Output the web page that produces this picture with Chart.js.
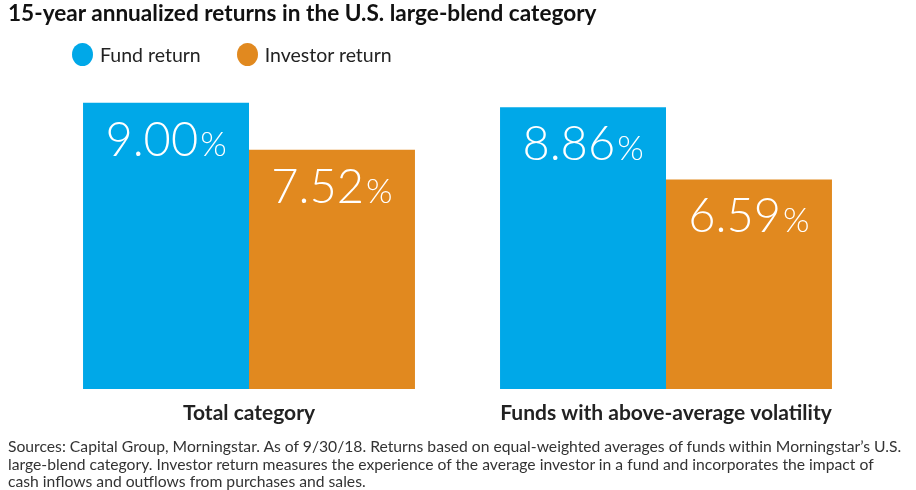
<!DOCTYPE html>
<html>
<head>
<meta charset="utf-8">
<script src="https://cdn.jsdelivr.net/npm/chart.js@4.4.1/dist/chart.umd.min.js"></script>
<style>
  html, body { margin: 0; padding: 0; background: #ffffff; }
  #wrap { position: relative; width: 916px; height: 490px; overflow: hidden; font-family: Lato, "Open Sans", sans-serif; }
  #chart { position: absolute; left: 0; top: 0; }
  #title { position: absolute; left: 8px; top: -1px; font-size: 22.6px; font-weight: 700; color: #111; white-space: nowrap; }
  #legend { position: absolute; left: 72px; top: 43px; display: flex; font-size: 19.5px; color: #222; }
  .item { display: flex; align-items: center; margin-right: 36px; }
  .dot { width: 21px; height: 23px; border-radius: 50%; margin-right: 7px; }
  #note { position: absolute; left: 8px; top: 438px; font-size: 15.7px; line-height: 17.5px; color: #333; font-weight: 400; white-space: nowrap; }
</style>
</head>
<body>
<div id="wrap">
  <canvas id="chart" width="916" height="490"></canvas>
  <div id="title">15-year annualized returns in the U.S. large-blend category</div>
  <div id="legend"></div>
  <div id="note">Sources: Capital Group, Morningstar. As of 9/30/18. Returns based on equal-weighted averages of funds within Morningstar’s U.S.<br>large-blend category. Investor return measures the experience of the average investor in a fund and incorporates the impact of<br>cash inflows and outflows from purchases and sales.</div>
</div>
<script>
const categories = ['Total category', 'Funds with above-average volatility'];
const fundReturns = [9.00, 8.86];
const investorReturns = [7.52, 6.59];
const seriesNames = ['Fund return', 'Investor return'];

const BLUE = '#00A8E8';
const ORANGE = '#E1891F';

// white value labels inside the top of each bar, "%" a bit smaller
const valueLabels = {
  id: 'valueLabels',
  afterDatasetsDraw(chart) {
    const ctx = chart.ctx;
    ctx.save();
    ctx.fillStyle = '#ffffff';
    ctx.textBaseline = 'alphabetic';
    chart.data.datasets.forEach((ds, i) => {
      chart.getDatasetMeta(i).data.forEach((bar, j) => {
        const num = ds.data[j].toFixed(2);
        ctx.font = '300 47px Lato, sans-serif';
        const w1 = ctx.measureText(num).width;
        ctx.font = '300 34px Lato, sans-serif';
        const w2 = ctx.measureText('%').width;
        const x0 = bar.x - (w1 + w2 + 2) / 2;
        const y = bar.y + 53;
        ctx.font = '300 47px Lato, sans-serif';
        ctx.textAlign = 'left';
        ctx.fillText(num, x0, y);
        ctx.font = '300 34px Lato, sans-serif';
        ctx.fillText('%', x0 + w1 + 2, y);
      });
    });
    ctx.restore();
  }
};

const chart = new Chart(document.getElementById('chart'), {
  type: 'bar',
  data: {
    labels: categories,
    datasets: [
      { label: seriesNames[0], data: fundReturns, backgroundColor: BLUE },
      { label: seriesNames[1], data: investorReturns, backgroundColor: ORANGE }
    ]
  },
  options: {
    responsive: false,
    animation: false,
    layout: { padding: { left: 40.5, right: 41.5, top: 71, bottom: 61 } },
    datasets: { bar: { barPercentage: 1, categoryPercentage: 0.796 } },
    plugins: {
      legend: { display: false },
      tooltip: { enabled: false }
    },
    scales: {
      y: { min: 0, max: 10, display: false },
      x: {
        grid: { display: false, drawTicks: false },
        border: { display: false },
        ticks: {
          color: '#222',
          padding: 12,
          font: { family: 'Lato, sans-serif', size: 21, weight: 'bold' }
        },
        afterFit: (scale) => { scale.height = 40; }
      }
    }
  },
  plugins: [valueLabels]
});

// legend built from the chart's datasets
const legend = document.getElementById('legend');
chart.data.datasets.forEach(ds => {
  const item = document.createElement('div');
  item.className = 'item';
  const dot = document.createElement('span');
  dot.className = 'dot';
  dot.style.background = ds.backgroundColor;
  const txt = document.createElement('span');
  txt.textContent = ds.label;
  item.appendChild(dot);
  item.appendChild(txt);
  legend.appendChild(item);
});
</script>
</body>
</html>
